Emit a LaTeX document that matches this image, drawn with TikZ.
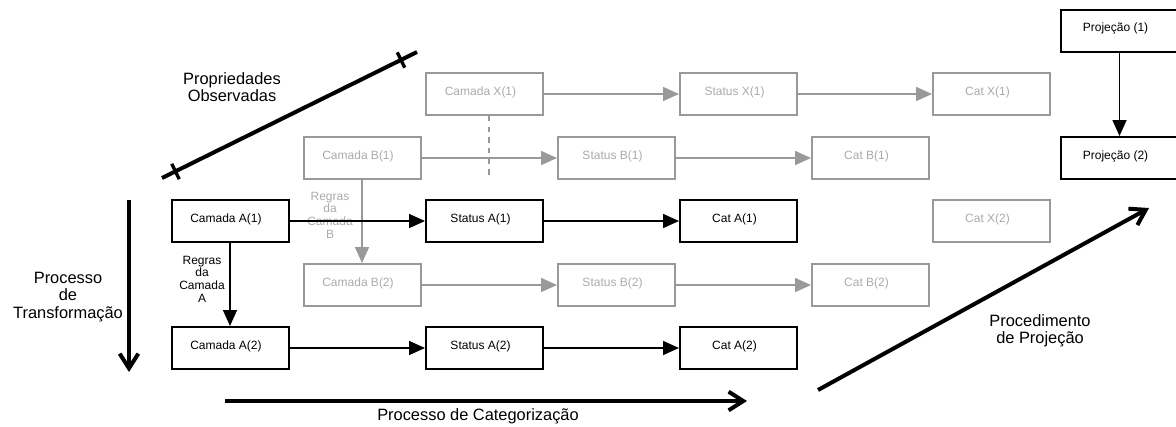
\documentclass[tikz,border=0pt]{standalone}
\usepackage{fontspec}
\setmainfont{Liberation Sans}
\usetikzlibrary{arrows.meta}
\definecolor{lineGrey}{HTML}{999999}
\definecolor{textGrey}{HTML}{AAAAAA}
\tikzset{
  box/.style={draw, line width=1.5pt, minimum width=87.75pt, minimum height=31.5pt,
    inner sep=0pt, text height=6.6pt, text depth=5pt,
    execute at end node={\hspace*{6pt}}, font=\fontsize{9}{11}\selectfont},
  blackbox/.style={box, draw=black, text=black},
  greybox/.style={box, draw=lineGrey, text=textGrey},
  link/.style={line width=1.2pt, -{Triangle[length=12pt,width=10.5pt]}},
  blacklink/.style={link, draw=black},
  greylink/.style={link, draw=lineGrey},
  dashlink/.style={draw=lineGrey, line width=1.2pt, dash pattern=on 4pt off 4pt},
  bigline/.style={line width=3pt, line cap=butt},
  bigarrow/.style={bigline, -{Straight Barb[length=11pt,width=14pt]}},
  biglabel/.style={align=center, inner sep=0pt, font=\fontsize{12.3}{13.1}\selectfont},
  rulelabel/.style={align=center, inner sep=0pt, font=\fontsize{9}{9.5}\selectfont},
}
\begin{document}
\begin{tikzpicture}[x=0.75pt, y=-0.75pt]
\useasboundingbox (0,0) rectangle (1176,426);

% layer X (background)
\node[greybox] (cx1) at (484.5,94)  {Camada X(1)};
\node[greybox] (sx1) at (738.5,94)  {Status X(1)};
\node[greybox] (kx1) at (991.5,94)  {Cat X(1)};
\node[greybox] (kx2) at (991.5,221) {Cat X(2)};

% layer B
\node[greybox] (cb1) at (362,158) {Camada B(1)};
\node[greybox] (sb1) at (616.5,158) {Status B(1)};
\node[greybox] (kb1) at (870.5,158) {Cat B(1)};
\node[greybox] (cb2) at (362,285) {Camada B(2)};
\node[greybox] (sb2) at (616.5,285) {Status B(2)};
\node[greybox] (kb2) at (870.5,285) {Cat B(2)};

% layer A (foreground)
\node[blackbox] (ca1) at (230,221)   {Camada A(1)};
\node[blackbox] (sa1) at (484.5,221) {Status A(1)};
\node[blackbox] (ka1) at (738.5,221) {Cat A(1)};
\node[blackbox] (ca2) at (230,348)   {Camada A(2)};
\node[blackbox] (sa2) at (484.5,348) {Status A(2)};
\node[blackbox] (ka2) at (738.5,348) {Cat A(2)};

% projections
\node[blackbox] (p1) at (1119.5,30.5) {Projeção (1)};
\node[blackbox] (p2) at (1119.5,158)  {Projeção (2)};

% grey connectors
\draw[greylink] (cx1) -- (sx1);
\draw[greylink] (sx1) -- (kx1);
\coordinate (dashend) at (489,175);
\draw[dashlink] (cx1.south -| dashend) -- (dashend);
\draw[greylink] (cb1) -- (sb1);
\draw[greylink] (sb1) -- (kb1);
\draw[greylink] (cb1) -- (cb2);
\draw[greylink] (cb2) -- (sb2);
\draw[greylink] (sb2) -- (kb2);
\node[rulelabel, text=textGrey] (rulesb) at (330,215) {Regras\\da\\Camada\\B};

% black connectors
\draw[blacklink] (ca1) -- (sa1);
\draw[blacklink] (sa1) -- (ka1);
\draw[blacklink] (ca1) -- (ca2);
\draw[blacklink] (ca2) -- (sa2);
\draw[blacklink] (sa2) -- (ka2);
\draw[blacklink] (p1) -- (p2);
\node[rulelabel] (rulesa) at (202,279) {Regras\\da\\Camada\\A};

% observed properties axis
\coordinate (obsstart) at (162,178);
\coordinate (obsend) at (417,52);
\coordinate (tickA) at (175.5,171.5);
\coordinate (tickB) at (401,60);
\draw[bigline] (obsstart) -- (obsend);
\draw[line width=2.5pt] (tickA) ++(-3.8,-7.7) -- ++(7.6,15.4);
\draw[line width=2.5pt] (tickB) ++(-3.8,-7.7) -- ++(7.6,15.4);
\node[biglabel] (obslabel) at (232,87) {Propriedades\\Observadas};

% transformation axis
\coordinate (trstart) at (129,200);
\coordinate (trend) at (129,372);
\draw[bigarrow] (trstart) -- (trend);
\node[biglabel] (trlabel) at (68,297) {Processo\\de\\Transformação};

% categorization axis
\coordinate (catstart) at (225,401);
\coordinate (catend) at (747,401);
\draw[bigarrow] (catstart) -- (catend);
\node[biglabel] (catlabel) at (478,416) {Processo de Categorização};

% projection axis
\coordinate (projstart) at (818,390);
\coordinate (projend) at (1149,208);
\draw[bigarrow] (projstart) -- (projend);
\node[biglabel] (projlabel) at (1040,331) {Procedimento\\de Projeção};
\end{tikzpicture}
\end{document}
